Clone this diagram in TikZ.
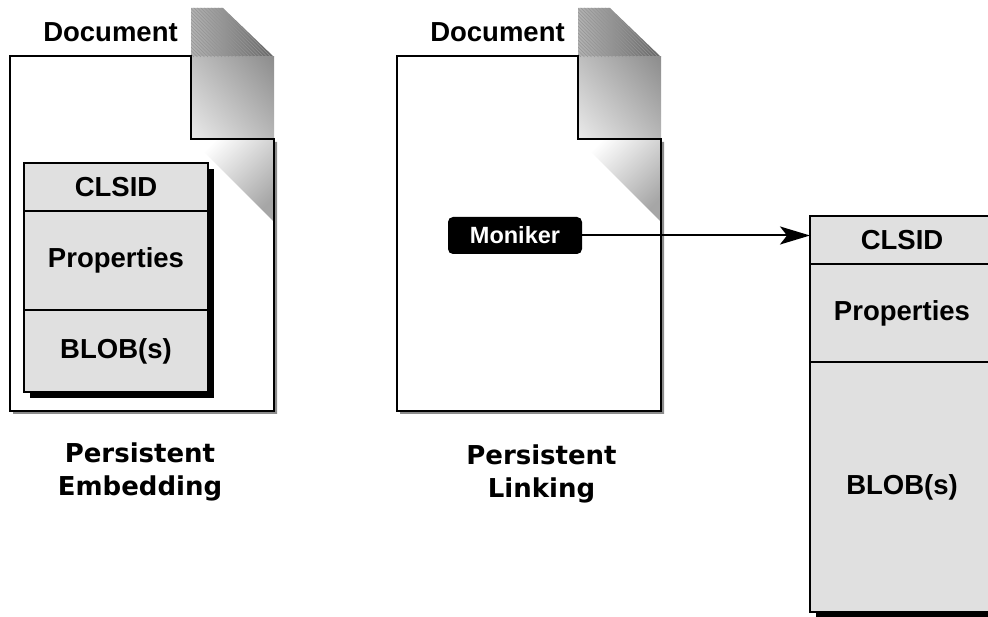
\documentclass[tikz,border=0pt]{standalone}
\usepackage{fontspec}
\setmainfont{Liberation Sans}
\newfontfamily\capfont{DejaVu Sans}
\usetikzlibrary{arrows.meta,calc,shadows,shadings}

% one document sheet with its folded corner; #1 = horizontal offset
\newcommand\docsheet[1]{%
  \begin{scope}[xshift=#1pt]
    % soft grey shadow along the right and bottom edges
    \fill[black!45] (13,59) -- (194,59) -- (194,142) -- (277,142) -- (277,414) -- (13,414) -- cycle;
    \fill[white] (10,56) -- (191,56) -- (191,139) -- (274,139) -- (274,411) -- (10,411) -- cycle;
    % folded corner, upper part
    \shade[left color=black!30, right color=black!60] (191,8) -- (223,8) -- (274,57) -- (191,57) -- cycle;
    % folded corner, lower hatched part
    \shade[lower left=black!8, upper right=black!45, lower right=black!28, upper left=black!25]
      (191,57) rectangle (274,139);
    \begin{scope}
      \clip (191,8) -- (223,8) -- (274,57) -- (274,139) -- (191,139) -- cycle;
      \foreach \i in {40,43.5,...,290}
        \draw[black!42, line width=0.5pt] (\i,57) -- ++(-100,-100);
    \end{scope}
    % shadow cast below the fold
    \begin{scope}
      \clip (191,139) -- (274,139) -- (274,222) -- cycle;
      \shade[left color=white, right color=black!35, shading angle=45] (191,139) rectangle (274,222);
    \end{scope}
    % sheet outline
    \draw[line width=1.8pt, line join=miter]
      (10,56) -- (191,56) -- (191,139) -- (274,139) -- (274,411) -- (10,411) -- cycle;
  \end{scope}}

\begin{document}
\begin{tikzpicture}[x=1pt, y=-1pt,
  lbl/.style={font=\fontsize{27.5}{32}\selectfont\bfseries},
  cell/.style={draw=black, line width=2.6pt, fill=black!12, minimum width=184pt,
    inner sep=0pt, outer sep=0pt, anchor=north west, lbl,
    drop shadow={shadow xshift=6pt, shadow yshift=-6pt, fill=black, opacity=1}},
  caption/.style={font=\capfont\fontsize{26}{33}\selectfont\bfseries, align=center},
  link/.style={line width=2pt, -{Stealth[length=30pt, width=18pt, inset=7pt]}}
]
\useasboundingbox (0,0) rectangle (988,617);
\clip (0,0) rectangle (988,617);

\docsheet{0}
\docsheet{387}

\node[lbl, anchor=base] (doc1) at (110.5,42) {Document};
\node[lbl, anchor=base] (doc2) at (497.5,42) {Document};

% embedded object inside the first document
\node[cell, minimum height=48pt] (ea) at (24,163) {CLSID};
\node[cell, minimum height=99pt] (eb) at (ea.south west) {Properties};
\node[cell, minimum height=82pt] (ec) at (eb.south west) {BLOB(s)};

% moniker inside the second document
\node[fill=black, text=white, rounded corners=5pt, minimum width=134pt, minimum height=37pt,
  inner sep=0pt, font=\fontsize{23.5}{28}\selectfont\bfseries] (mon) at (515,235.5) {Moniker};

% linked object outside the document
\node[cell, minimum height=48pt] (ra) at (810,216) {CLSID};
\node[cell, minimum height=98pt] (rb) at (ra.south west) {Properties};
\node[cell, minimum height=250pt] (rc) at (rb.south west) {BLOB(s)};

\draw[link] (mon.east) -- (mon.east -| ra.west);

\node[caption] (cap1) at (140,471.5) {Persistent\\Embedding};
\node[caption] (cap2) at (541.5,474) {Persistent\\Linking};
\end{tikzpicture}
\end{document}
